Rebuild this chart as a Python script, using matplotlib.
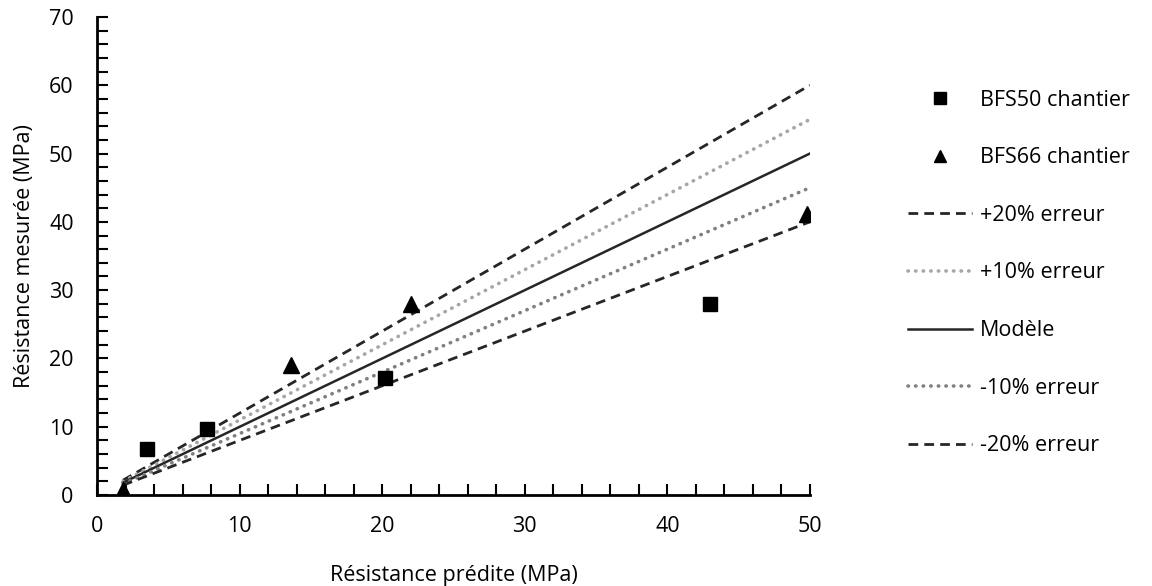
import numpy as np
import matplotlib
matplotlib.use("Agg")
import matplotlib.pyplot as plt
from matplotlib.ticker import MultipleLocator

plt.rcParams['font.family'] = ['Open Sans', 'DejaVu Sans']

# data
bfs50_pred = [3.5, 7.7, 20.2, 43.0]
bfs50_mes = [6.7, 9.6, 17.1, 28.0]
bfs66_pred = [1.8, 13.6, 22.0, 49.8]
bfs66_mes = [0.8, 19.0, 28.0, 41.2]

# model line and error bands
model_x = [1.8, 50.0]
factors = [1.2, 1.1, 1.0, 0.9, 0.8]
band_labels = ['+20% erreur', '+10% erreur', 'Modèle', '-10% erreur', '-20% erreur']

fs = 15.5

fig = plt.figure(figsize=(11.52, 5.86), dpi=100)
ax = fig.add_axes([0.0845, 0.1553, 0.6185, 0.8157])

ax.plot(bfs50_pred, bfs50_mes, 's', color='black', ms=10.5, label='BFS50 chantier', zorder=5)
ax.plot(bfs66_pred, bfs66_mes, '^', color='black', ms=11, label='BFS66 chantier', zorder=5)

styles = [
    dict(color='#262626', ls=(0, (3.5, 2.2)), lw=2.0),
    dict(color='#a6a6a6', ls=(0, (0.1, 2.0)), lw=2.6, dash_capstyle='round'),
    dict(color='#262626', ls='-', lw=1.8),
    dict(color='#808080', ls=(0, (0.1, 2.0)), lw=2.6, dash_capstyle='round'),
    dict(color='#262626', ls=(0, (3.5, 2.2)), lw=2.0),
]
mx = np.array(model_x)
for f, lab, st in zip(factors, band_labels, styles):
    ax.plot(mx, mx * f, label=lab, **st)

ax.set_xlim(0, 50)
ax.set_ylim(0, 70)
ax.xaxis.set_major_locator(MultipleLocator(10))
ax.yaxis.set_major_locator(MultipleLocator(10))
ax.xaxis.set_minor_locator(MultipleLocator(2))
ax.yaxis.set_minor_locator(MultipleLocator(2))
ax.tick_params(which='both', direction='in', length=8, width=1.5, labelsize=fs)
ax.tick_params(axis='x', pad=15)
ax.tick_params(axis='y', pad=17)
for s in ['top', 'right']:
    ax.spines[s].set_visible(False)
for s in ['left', 'bottom']:
    ax.spines[s].set_linewidth(2)

ax.set_xlabel('Résistance prédite (MPa)', fontsize=fs, labelpad=20)
ax.set_ylabel('Résistance mesurée (MPa)', fontsize=fs, labelpad=10)

fig.legend(loc='upper left', bbox_to_anchor=(0.771, 0.88), frameon=False,
           fontsize=fs, labelspacing=1.7, handlelength=3.0, handletextpad=0.35,
           markerscale=0.8)

fig.savefig('out.png', dpi=100)
